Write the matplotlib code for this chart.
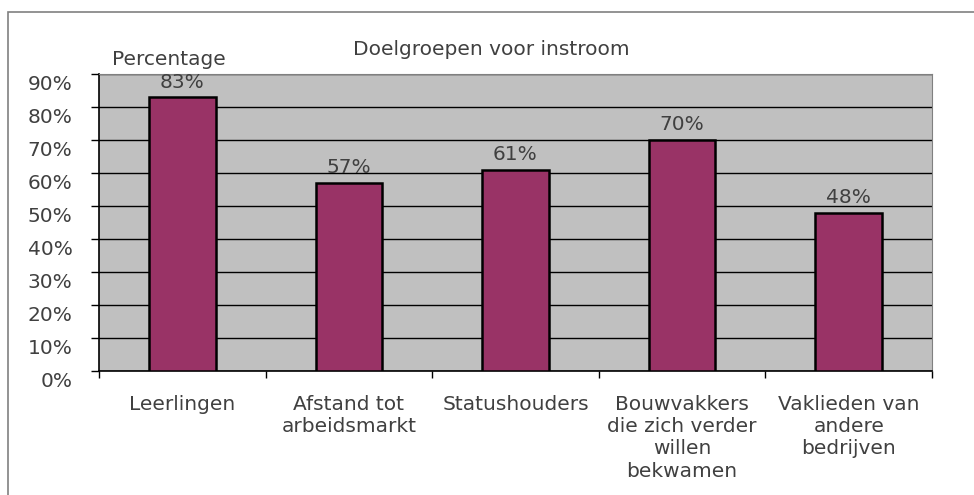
import matplotlib.pyplot as plt
from matplotlib.patches import Rectangle
from matplotlib.ticker import PercentFormatter
from matplotlib.transforms import ScaledTranslation
import numpy as np

plt.rcParams['font.family'] = ['DejaVu Sans']

categories = ["Leerlingen", "Afstand tot\narbeidsmarkt", "Statushouders",
              "Bouwvakkers\ndie zich verder\nwillen\nbekwamen",
              "Vaklieden van\nandere\nbedrijven"]
values = [83, 57, 61, 70, 48]
yticks = [0, 10, 20, 30, 40, 50, 60, 70, 80, 90]

txt = '#404040'
fs = 14.5

fig = plt.figure(figsize=(9.74, 4.95), dpi=100)
W, H = 974, 495
ax = fig.add_axes([99 / W, 1 - 371 / H, (932 - 99) / W, (371 - 74) / H])

# outer chart border (runs off the right and bottom edge)
fig.patches.append(Rectangle((8 / W, -0.1), 1.2, 1 - 12 / H + 0.1,
                             transform=fig.transFigure, fill=False,
                             edgecolor='#808080', linewidth=1.2))

ax.set_facecolor('#C0C0C0')
x = np.arange(len(values))
ax.bar(x, values, width=0.4, color='#993366', edgecolor='black',
       linewidth=1.8, zorder=3)
for xi, v in zip(x, values):
    ax.annotate("%d%%" % v, (xi, v), xytext=(0, 4), textcoords='offset points',
                ha='center', va='bottom', fontsize=fs, color=txt, zorder=4)

ax.set_xlim(-0.5, len(values) - 0.5)
ax.set_ylim(0, 90)
ax.set_yticks(yticks)
ax.yaxis.set_major_formatter(PercentFormatter(decimals=0))
ax.yaxis.grid(True, color='black', linewidth=1)
ax.set_axisbelow(True)

ax.set_xticks(np.arange(len(values) + 1) - 0.5)
ax.set_xticklabels([])
ax.set_xticks(x, minor=True)
ax.set_xticklabels(categories, minor=True, fontsize=fs, color=txt,
                   linespacing=1.22)
ax.tick_params(axis='x', which='minor', length=0, pad=17)
ax.tick_params(axis='x', which='major', length=5, direction='out',
               width=1, color='black')
ax.tick_params(axis='y', length=6, direction='out', width=1,
               labelsize=fs, labelcolor=txt, pad=13)
# Excel draws the value labels slightly below their gridline
for lab in ax.get_yticklabels():
    lab.set_transform(lab.get_transform() + ScaledTranslation(0, -6 / 72, fig.dpi_scale_trans))

for s in ['top', 'right']:
    ax.spines[s].set_color('#808080')
for s in ['left', 'bottom']:
    ax.spines[s].set_color('black')
    ax.spines[s].set_linewidth(1.2)

fig.text(491 / W, 1 - 55 / H, "Doelgroepen voor instroom", ha='center',
         va='baseline', fontsize=fs, color=txt)
fig.text(169 / W, 1 - 65 / H, "Percentage", ha='center', va='baseline',
         fontsize=fs, color=txt)

fig.savefig('out.png', dpi=100)
